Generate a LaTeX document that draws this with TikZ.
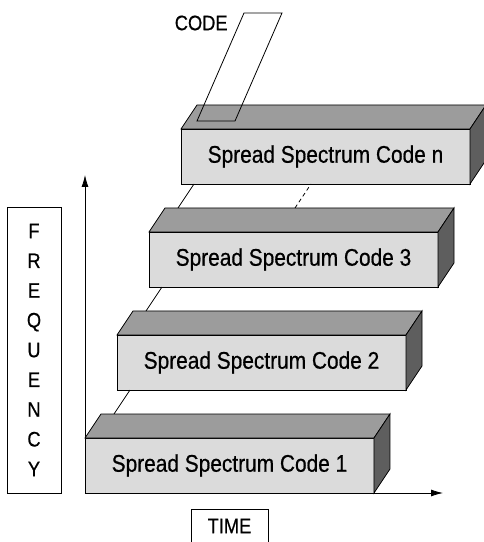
\documentclass[tikz,border=0pt]{standalone}
\usepackage{fontspec}
\setmainfont{Liberation Sans}[FakeStretch=0.87, FakeBold=0.6]
\usetikzlibrary{arrows.meta, calc}

\definecolor{frontgray}{gray}{0.86}
\definecolor{topgray}{gray}{0.61}
\definecolor{sidegray}{gray}{0.37}

\tikzset{
    block/.style={draw, fill=frontgray, anchor=south west, inner sep=0pt, outer sep=0pt,
        minimum width=289pt, minimum height=55pt, font=\fontsize{24}{28}\selectfont},
    labelbox/.style={draw, inner sep=0pt, font=\fontsize{21}{29.75}\selectfont},
    axis/.style={-{Latex[length=12pt, width=7pt]}},
}

\begin{document}
\begin{tikzpicture}[x=1pt, y=1pt, line width=0.8pt]

    \useasboundingbox (-85,-49) rectangle (399,493);

    % --- 坐标轴 ---
    \coordinate (O) at (0,0);
    \coordinate (tmax) at (358,0);
    \coordinate (fmax) at (0,318);
    \draw[axis] (O) -- (tmax);
    \draw[axis] (O) -- (fmax);

    % --- 扩频码块 ---
    \foreach \i/\name/\txt in {0/b1/1, 1/b2/2, 2/b3/3, 3/bn/n} {
        \node[block] (\name) at (32*\i, 103*\i) {Spread Spectrum Code \txt};
        \draw[fill=topgray] (\name.north west) -- ++(16,24) -- ++(289,0)
            -- (\name.north east) -- cycle;
        \draw[fill=sidegray] (\name.north east) -- ++(16,24) -- ++(0,-55)
            -- (\name.south east) -- cycle;
    }

    % 块之间的连线
    \foreach \a/\b in {b1/b2, b2/b3, b3/bn}
        \draw ($(\a.north west)+(29,24)$) -- ($(\b.south west)+(13,0)$);
    \draw[dash pattern=on 4pt off 3pt] ($(b3.north west)+(146,24)$) -- ($(bn.south west)+(130,0)$);

    % --- 码 ---
    \draw ($(bn.north west)+(16,8)$) coordinate (c1) -- ++(38,0)
        -- ++(47,108) -- ++(-38,0) coordinate (c4) -- cycle;
    \node[anchor=east, inner sep=0pt, font=\fontsize{21}{24}\selectfont] (code) at (143,470) {CODE};

    % --- 标签 ---
    \node[labelbox, minimum width=54pt, minimum height=286pt, align=center] (freq) at (-51,143)
        {F\\R\\E\\Q\\U\\E\\N\\C\\Y};
    \node[labelbox, minimum width=77pt, minimum height=34pt] (time) at (144.5,-33) {TIME};

\end{tikzpicture}
\end{document}
